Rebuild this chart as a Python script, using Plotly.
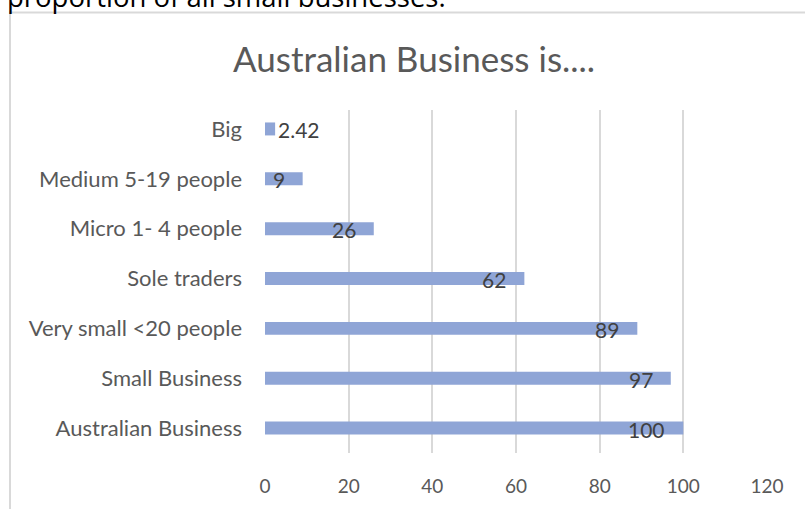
import plotly.graph_objects as go

categories = ["Australian Business", "Small Business", "Very small <20 people",
              "Sole traders", "Micro 1- 4 people", "Medium 5-19 people", "Big"]
values = [100, 97, 89, 62, 26, 9, 2.42]
labels = ["100", "97", "89", "62", "26", "9", "2.42"]
x_ticks = [0, 20, 40, 60, 80, 100, 120]

W, H = 805, 509
L, R, T, B = 265, 38, 110, 54
pw, ph = W - L - R, H - T - B

def px_x(p):
    return (p - L) / pw

def px_y(p):
    return (H - B - p) / ph

fig = go.Figure()
fig.add_trace(go.Bar(
    y=categories, x=values, orientation="h",
    marker=dict(color="#8FA5D6", line=dict(width=0)),
    width=0.26, hoverinfo="skip",
))

annotations = []
for c, v, t in zip(categories, values, labels):
    if v < 5:
        annotations.append(dict(x=v, y=c, xref="x", yref="y", text=t, showarrow=False,
                                xanchor="left", xshift=1, yshift=-1,
                                font=dict(family="Lato", size=21, color="#404040")))
    else:
        annotations.append(dict(x=v, y=c, xref="x", yref="y", text=t, showarrow=False,
                                xanchor="right", xshift=-16, yshift=-1,
                                font=dict(family="Lato", size=21, color="#404040")))

annotations.append(dict(x=px_x(414), y=px_y(58), xref="paper", yref="paper",
                        text="Australian Business is....", showarrow=False,
                        xanchor="center", yanchor="middle",
                        font=dict(family="Lato", size=35, color="#595959")))
annotations.append(dict(x=px_x(5), y=px_y(16), xref="paper", yref="paper",
                        text="proportion of all small businesses.", showarrow=False,
                        xanchor="left", yanchor="bottom",
                        font=dict(family="Open Sans", size=27.5, color="#000000")))
fig.update_layout(annotations=annotations)

fig.add_shape(type="rect", xref="paper", yref="paper",
              x0=px_x(10), x1=px_x(820), y0=px_y(12), y1=px_y(530),
              line=dict(color="#D9D9D9", width=2), fillcolor="rgba(0,0,0,0)", layer="below")

fig.update_layout(
    width=W, height=H,
    margin=dict(l=L, r=R, t=T, b=B, pad=0),
    paper_bgcolor="white", plot_bgcolor="white",
    showlegend=False,
    xaxis=dict(range=[0, 120], tickvals=x_ticks, showgrid=True, gridcolor="#D9D9D9",
               gridwidth=1.5, zeroline=False, showline=False, ticks="",
               ticklabelstandoff=20,
               tickfont=dict(family="Lato", size=19, color="#595959"), fixedrange=True),
    yaxis=dict(categoryorder="array", categoryarray=categories, range=[-0.5, 6.38],
               showgrid=False, zeroline=False, showline=False, ticks="",
               ticklabelstandoff=22,
               tickfont=dict(family="Lato", size=22, color="#595959"), fixedrange=True),
)

fig.write_html("out.html")
